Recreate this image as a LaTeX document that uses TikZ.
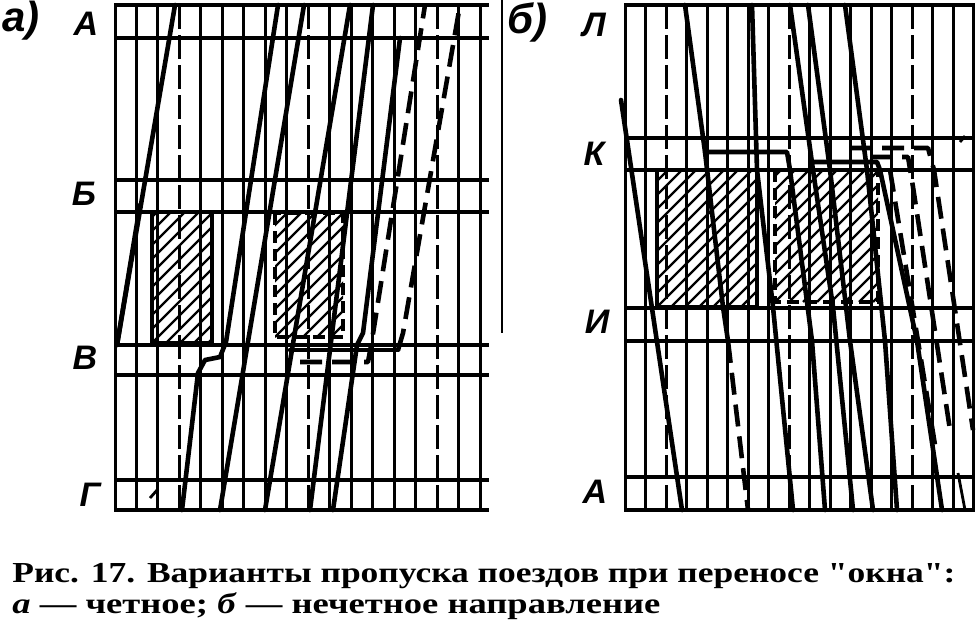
\documentclass[tikz,border=0pt]{standalone}
\usepackage{graphicx}
\usepackage{fontspec}
\setmainfont{Liberation Serif}
\newfontfamily\capfont{Liberation Serif}
\newfontfamily\lblfont{Liberation Sans}
\begin{document}
\begin{tikzpicture}[x=0.5pt,y=-0.5pt,
  gridv/.style={line width=1.5pt},
  gridd/.style={line width=1.5pt, dash pattern=on 12pt off 3pt},
  stn/.style={line width=1.6pt},
  train/.style={line width=2.3pt, line join=round, line cap=round},
  trainD/.style={line width=2.3pt, line join=round, dash pattern=on 11pt off 5pt},
  thinl/.style={line width=1.4pt},
  hatch/.style={line width=1.2pt},
  boxs/.style={line width=2.3pt},
  boxd/.style={line width=2.3pt, dash pattern=on 6pt off 3pt},
  lbl/.style={font=\lblfont\bfseries\itshape\fontsize{17}{17}\selectfont, inner sep=0pt},
  plbl/.style={font=\lblfont\bfseries\itshape\fontsize{21}{21}\selectfont, inner sep=0pt},
  captxt/.style={font=\capfont\fontsize{14.5}{16}\selectfont\bfseries, inner sep=0pt, anchor=base west}
]
\useasboundingbox (0,0) rectangle (977,634);

% ================= LEFT PANEL (a) =================
\foreach \i in {0,...,17}{
  \pgfmathsetmacro\xx{115+\i*21.47}
  \pgfmathtruncatemacro\m{mod(\i,6)}
  \ifnum\m=3 \draw[gridd] (\xx,5) -- (\xx,510); \else \draw[gridv] (\xx,5) -- (\xx,510); \fi
}
\foreach \yy in {5,38,180,212,345,375,480,510} \draw[stn] (114,\yy) -- (489,\yy);

% windows (hatched)
\begin{scope}
  \clip (152,212) rectangle (212,343);
  \foreach \k in {-6,...,14} \draw[hatch] (152+\k*14-140,343) -- ++(280,-280);
\end{scope}
\draw[boxs] (152,212) rectangle (212,343);
\begin{scope}
  \clip (275,213) rectangle (343,337);
  \foreach \k in {-6,...,14} \draw[hatch] (275+\k*14-140,337) -- ++(280,-280);
\end{scope}
\draw[boxd] (275,213) rectangle (343,337);

% even trains
\draw[train] (175,5) -- (117,345);
\draw[train] (140,205) -- (117,345);
\draw[train] (182,510) -- (198,373) -- (205,360) -- (220,357) -- (226,342) -- (278,5);
\draw[train] (220,510) -- (304,5);
\draw[train] (265,510) -- (350,5);
\draw[train] (310,510) -- (373,5);
\draw[train] (333,510) -- (357,345) -- (363,333) -- (400,38);
\draw[thinl] (150,498) -- (158,489);
\draw[train] (290,350) -- (398,350);
\draw[trainD] (398,350) -- (403,333) -- (460,5);
\draw[trainD] (300,362) -- (368,362) -- (372,340) -- (425,5);

\node[plbl] (la) at (21,21) {а)};
\node[lbl] (lA) at (86,24) {А};
\node[lbl] (lB) at (84,194) {Б};
\node[lbl] (lV) at (85,358) {В};
\node[lbl] (lG) at (90,495) {Г};

% separator line
\draw[line width=1pt] (502,0) -- (502,333);

% ================= RIGHT PANEL (b) =================
\foreach \j in {0,...,17}{
  \pgfmathsetmacro\xx{625+\j*20.5}
  \pgfmathtruncatemacro\m{mod(\j,6)}
  \ifnum\m=2 \draw[gridd] (\xx,5) -- (\xx,510); \else \draw[gridv] (\xx,5) -- (\xx,510); \fi
}
\foreach \yy in {5,138,170,308,341,477,510} \draw[stn] (624,\yy) -- (975,\yy);

\begin{scope}
  \clip (657,170) rectangle (757,307);
  \foreach \k in {-6,...,20} \draw[hatch] (657+\k*14-140,307) -- ++(280,-280);
\end{scope}
\draw[boxs] (657,170) rectangle (757,307);
\begin{scope}
  \clip (775,170) rectangle (878,302);
  \foreach \k in {-6,...,20} \draw[hatch] (775+\k*14-140,302) -- ++(280,-280);
\end{scope}
\draw[boxd] (775,170) rectangle (878,302);

% odd trains
\draw[train] (621,100) -- (682,510);
\draw[train] (685,5) -- (705,152) -- (787,152) -- (790,170) -- (812,341) -- (825,510);
\draw[train] (705,152) -- (723,307) -- (728,341);
\draw[trainD] (728,341) -- (748,510);
\draw[train] (752,5) -- (757,170) -- (773,307) -- (793,510);
\draw[train] (790,5) -- (813,170) -- (833,307) -- (853,510);
\draw[train] (808,5) -- (830,170) -- (850,341) -- (873,510);
\draw[train] (845,5) -- (867,170) -- (885,341) -- (897,510);
\draw[train] (812,162) -- (877,162) -- (880,170) -- (917,341) -- (942,510);
\draw[trainD] (850,148) -- (928,148) -- (934,170) -- (973,430);
\draw[trainD] (870,157) -- (908,157) -- (913,187) -- (950,430);
\draw[trainD] (890,170) -- (935,445);
\draw[thinl] (958,473) -- (965,510);
\draw[thinl] (960,142) -- (965,136);

\node[plbl] (lb) at (527,22) {б)};
\node[lbl] (rL) at (594,25) {Л};
\node[lbl] (rK) at (594,154) {К};
\node[lbl] (rI) at (597,322) {И};
\node[lbl] (rA) at (595,492) {А};

% ================= CAPTION =================
\node[captxt] (c1) at (12,582) {\resizebox{471.5pt}{\height}{Рис. 17. Варианты пропуска поездов при переносе "окна":}};
\node[captxt] (c2) at (12,613) {\resizebox{324pt}{\height}{\textit{а} — четное; \textit{б} — нечетное направление}};
\end{tikzpicture}
\end{document}
